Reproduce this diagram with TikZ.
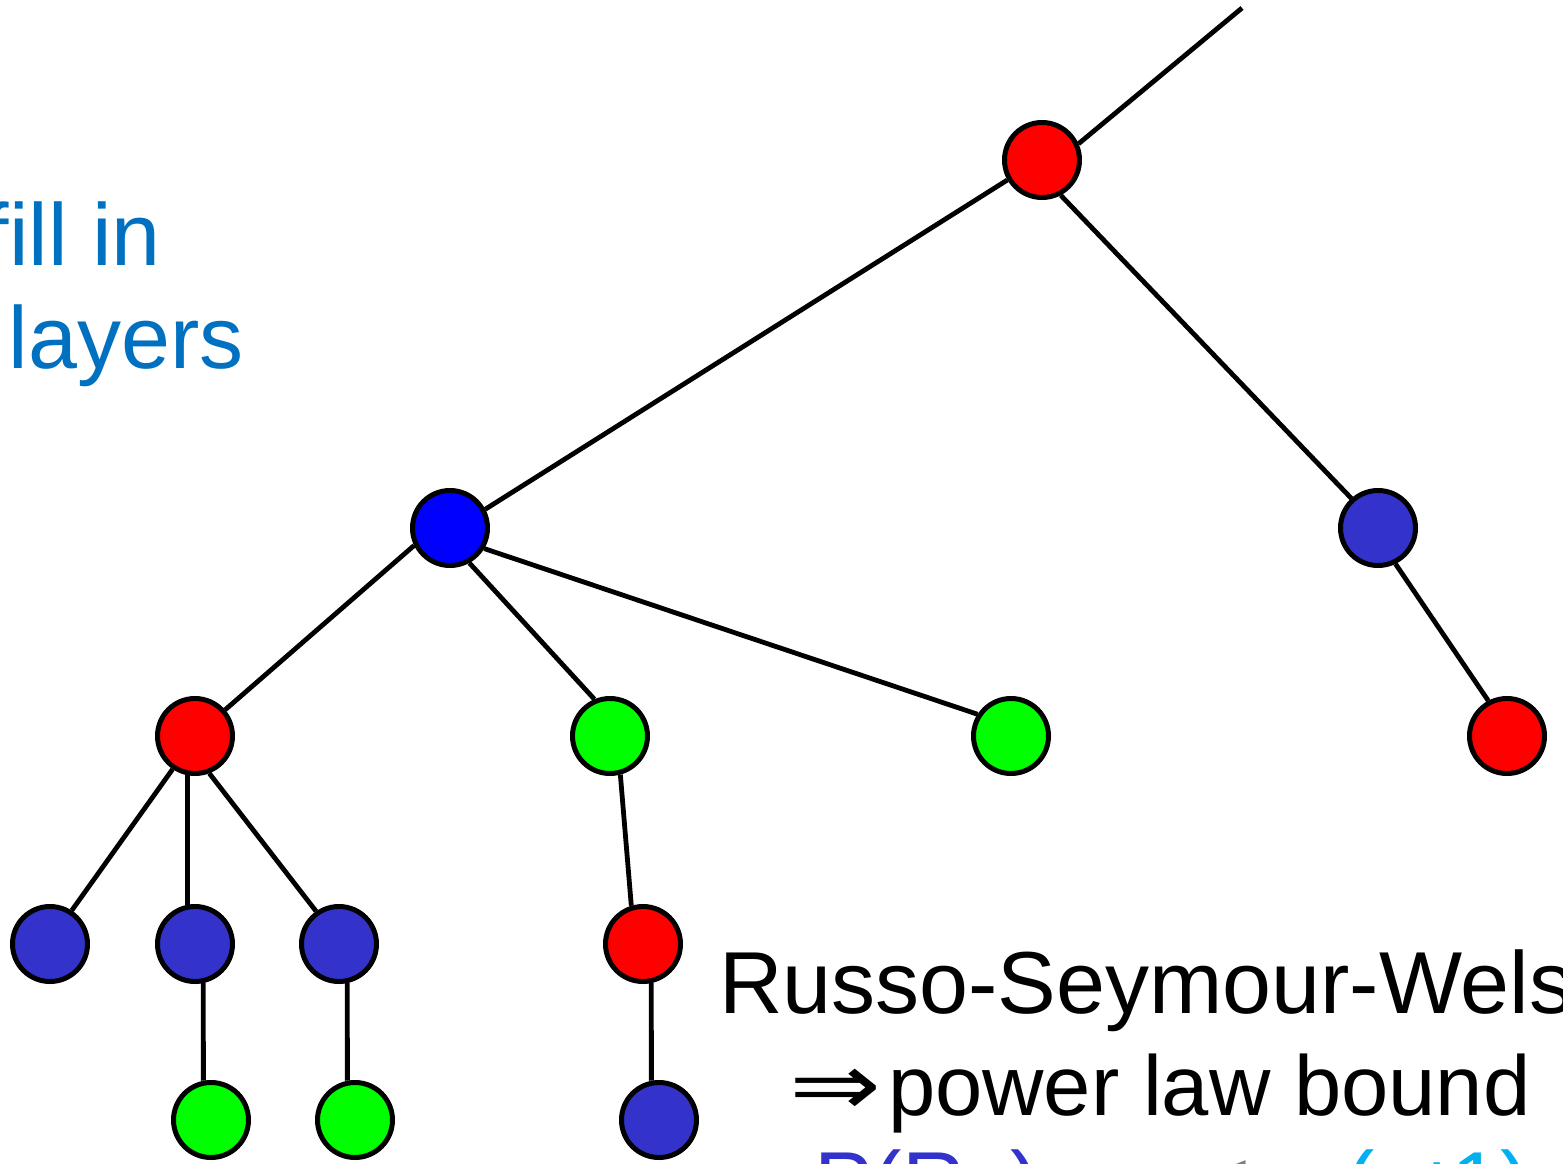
\documentclass[tikz,border=0pt]{standalone}
\usepackage{fontspec}
\setmainfont{Liberation Sans}
\newfontfamily\arrowfont{DejaVu Sans}
\definecolor{vred}{RGB}{255,0,0}
\definecolor{vblue}{RGB}{0,0,255}
\definecolor{vindigo}{RGB}{51,51,204}
\definecolor{vgreen}{RGB}{0,255,0}
\definecolor{noteblue}{RGB}{0,112,192}
\definecolor{probblue}{RGB}{51,51,204}
\definecolor{probcyan}{RGB}{0,176,240}
\begin{document}
\begin{tikzpicture}[x=1pt,y=-1pt,
  vtx/.style={circle,draw=black,line width=5pt,minimum size=75pt,inner sep=0pt},
  red vtx/.style={vtx,fill=vred},
  blue vtx/.style={vtx,fill=vblue},
  indigo vtx/.style={vtx,fill=vindigo},
  green vtx/.style={vtx,fill=vgreen},
  edge/.style={line width=4.8pt,draw=black},
  big text/.style={inner sep=0pt,outer sep=0pt,anchor=base west,font=\fontsize{88}{100}\selectfont}]
\useasboundingbox (0,0) rectangle (1563,1164);
\clip (0,0) rectangle (1563,1164);

% vertices of the tree, level by level
\node[red vtx] (root) at (1042,160) {};
\coordinate (up) at (1242,8);

\node[blue vtx]   (a) at (450,528) {};
\node[indigo vtx] (b) at (1378,528) {};

\node[red vtx]   (a1) at (195,736) {};
\node[green vtx] (a2) at (610,736) {};
\node[green vtx] (a3) at (1011,736) {};
\node[red vtx]   (b1) at (1507,736) {};

\node[indigo vtx] (a11) at (50,944) {};
\node[indigo vtx] (a12) at (195,944) {};
\node[indigo vtx] (a13) at (339,944) {};
\node[red vtx]    (a21) at (643,944) {};

\node[green vtx]  (a121) at (211,1120) {};
\node[green vtx]  (a131) at (355,1120) {};
\node[indigo vtx] (a211) at (659,1120) {};

% tree edges
\draw[edge] (root.24) -- (up);
\draw[edge] (root.-150) -- (a.28);
\draw[edge] (root.-62) -- (b.132);
\draw[edge] (a.-154) -- (a1.41);
\draw[edge] (a.-61.5) -- (a2.113.5);
\draw[edge] (a.-31) -- (a3.147);
\draw[edge] (b.-64) -- (b1.118);
\draw[edge] (a1.-124) -- (a11.57);
\draw[edge] (a1.-101.5) -- (a12.101.5);
\draw[edge] (a1.-69) -- (a13.125);
\draw[edge] (a2.-75) -- (a21.107);
\draw[edge] (a12.-78.5) -- (a121.101.5);
\draw[edge] (a13.-78.5) -- (a131.101.5);
\draw[edge] (a21.-78.5) -- (a211.101.5);

% side note
\node[big text,text=noteblue] (fill) at (-15,265) {fill in};
\node[big text,text=noteblue] (layers) at (9,368) {layers};

% statement at the lower right
\node[big text] (rsw) at (719,1013) {Russo-Seymour-Welsh};
\node[big text] (impl) at (789,1115) {\scalebox{1.25}[1]{\arrowfont ⇒}};
\node[big text,font=\fontsize{85}{100}\selectfont] (plb) at (888,1115) {power law bound};
\node[big text,text=probblue] (prob) at (814,1213) {P(R};
\node[big text,text=probblue] (probn) at (962,1213) {n)};
\node[big text,text=gray] (rel) at (1200,1213) {≤};
\node[big text,text=probcyan] (rate) at (1345,1213) {(n\kern-12pt+\kern-11pt1)};
\end{tikzpicture}
\end{document}
